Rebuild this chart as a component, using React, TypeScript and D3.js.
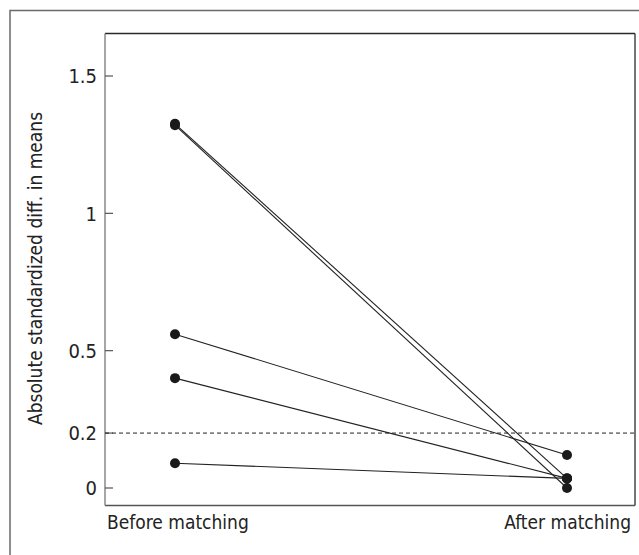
import * as d3 from "d3";

// groups on the x axis
const stages = ["Before matching", "After matching"];
// absolute standardized difference in means, one entry per covariate
const beforeValues = [1.326, 1.321, 0.56, 0.4, 0.09];
const afterValues = [0.035, 0.0, 0.12, 0.035, 0.035];
const yTicks = [0, 0.2, 0.5, 1, 1.5];
const cutoff = 0.2;

const W = 639;
const H = 555;
const plot = { left: 105, right: 635, top: 33.5, bottom: 505.5 };
const font = "'Liberation Sans Narrow', 'DejaVu Sans Condensed', sans-serif";

function App() {
  const x = d3.scalePoint().domain(stages).range([175, 567]);
  const y = d3.scaleLinear().domain([0, 1.5]).range([488, 76]);

  const pairs = beforeValues.map((b, i) => [b, afterValues[i]]);
  const line = d3
    .line<[string, number]>()
    .x((d) => x(d[0]) as number)
    .y((d) => y(d[1]));

  return (
    <svg
      width={W}
      height={H}
      style={{ position: "fixed", left: 0, top: 0, background: "#fff" }}
      fontFamily={font}
    >
      <rect x={0} y={0} width={W} height={H} fill="#fff" />
      {/* outer frame, runs off the picture on the right and bottom */}
      <rect x={10} y={10.5} width={W + 20} height={H + 20} fill="none" stroke="#6a6a6a" strokeWidth={1.5} />

      {/* plot frame */}
      <line x1={plot.left} x2={plot.right} y1={plot.top} y2={plot.top} stroke="#2a2a2a" strokeWidth={1.3} />
      <line x1={plot.right} x2={plot.right} y1={plot.top} y2={plot.bottom} stroke="#2a2a2a" strokeWidth={1.3} />
      <line x1={plot.left} x2={plot.right} y1={plot.bottom} y2={plot.bottom} stroke="#555" strokeWidth={1.3} />
      <line x1={plot.left} x2={plot.left} y1={plot.top} y2={plot.bottom} stroke="#777" strokeWidth={1.3} />

      {/* y ticks */}
      {yTicks.map((t) => (
        <g key={t}>
          <line x1={plot.left} x2={plot.left + 8} y1={y(t)} y2={y(t)} stroke="#555" strokeWidth={1.2} />
          <text x={97} y={y(t)} dy="0.36em" textAnchor="end" fontSize={20} fill="#222">
            {t}
          </text>
        </g>
      ))}

      {/* 0.2 reference line */}
      <line
        x1={plot.left}
        x2={plot.right}
        y1={y(cutoff)}
        y2={y(cutoff)}
        stroke="#222"
        strokeWidth={1}
        strokeDasharray="4,3"
      />

      {pairs.map((p, i) => (
        <path
          key={"l" + i}
          d={line([
            [stages[0], p[0]],
            [stages[1], p[1]],
          ]) as string}
          fill="none"
          stroke="#222"
          strokeWidth={1.1}
        />
      ))}
      {pairs.map((p, i) => (
        <g key={"p" + i} fill="#1a1a1a">
          <circle cx={x(stages[0])} cy={y(p[0])} r={5} />
          <circle cx={x(stages[1])} cy={y(p[1])} r={5} />
        </g>
      ))}

      {/* axis labels */}
      <text x={107} y={529} fontSize={19} fill="#222">
        {stages[0]}
      </text>
      <text x={631} y={529} fontSize={19} fill="#222" textAnchor="end">
        {stages[1]}
      </text>
      <text
        transform={`translate(42,${(plot.top + plot.bottom) / 2 - 1}) rotate(-90)`}
        textAnchor="middle"
        fontSize={19}
        fill="#222"
      >
        Absolute standardized diff. in means
      </text>
    </svg>
  );
}

export default App;
